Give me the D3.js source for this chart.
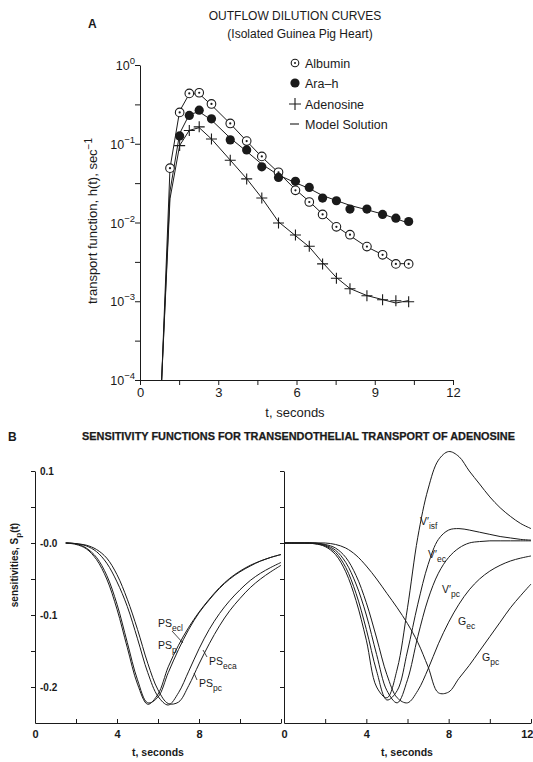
<!DOCTYPE html>
<html><head><meta charset="utf-8">
<script src="https://cdn.jsdelivr.net/npm/d3@7"></script>
<style>body{margin:0;background:#fff}svg{display:block}</style>
</head><body>
<svg id="c" width="533" height="762"></svg>
<script>
// ---------- Panel A data ----------
const tA = [1.15,1.52,1.89,2.27,2.74,3.46,4.09,4.67,5.31,5.96,6.49,7.00,7.53,8.05,8.70,9.30,9.81,10.30];
const albumin = [0.049,0.25,0.436,0.444,0.32,0.181,0.108,0.069,0.0434,0.0256,0.0182,0.01265,0.0088,0.0070,0.00494,0.00389,0.00298,0.00298];
const araH = [null,0.1257,0.229,0.267,0.207,0.112,0.0834,0.0509,0.0374,0.0333,0.0279,0.0204,0.0189,0.0148,0.0148,0.01265,0.01135,0.0103];
const adenosine = [null,0.0948,0.147,0.164,0.1148,0.0616,0.0358,0.0205,0.00986,0.00693,0.00499,0.00298,0.00196,0.00144,0.001175,0.001044,0.001015,0.000986];
const modelT = [0.83,1.15,1.52,1.89,2.27,2.74,3.46,4.09,4.67,5.31,5.96,6.49,7.00,7.53,8.05,8.70,9.30,9.81,10.30];
const modelAlbumin = [1e-4,0.049,0.26,0.43,0.43,0.31,0.18,0.108,0.068,0.043,0.0262,0.0185,0.0128,0.0089,0.0068,0.0049,0.0039,0.0030,0.0030];
const modelAra = [1e-4,0.025,0.135,0.235,0.255,0.2,0.118,0.08,0.055,0.04,0.032,0.027,0.022,0.019,0.0165,0.0145,0.0128,0.0112,0.0098];
const modelAdenosine = [1e-4,0.02,0.095,0.148,0.16,0.115,0.062,0.036,0.0205,0.0102,0.0068,0.0049,0.0031,0.002,0.00145,0.00118,0.00105,0.00095,0.00102];
const yTicksA = [1e-4,1e-3,1e-2,1e-1,1];
const yTickExpA = ["\u22124","\u22123","\u22122","\u22121","0"];
const xTicksA = [0,3,6,9,12];
const legendA = ["Albumin","Ara\u2013h","Adenosine","Model Solution"];

// ---------- Panel B data ----------
const tBL = [1.5,2,2.5,3,3.5,4,4.5,5,5.5,6,6.5,7,7.5,8,8.5,9,9.5,10,10.5,11,11.5,12];
const psEcl = [0,-0.002,-0.008,-0.023,-0.05,-0.092,-0.145,-0.196,-0.224,-0.21,-0.172,-0.142,-0.117,-0.096,-0.078,-0.062,-0.049,-0.039,-0.031,-0.025,-0.02,-0.016];
const psP   = [0,-0.001,-0.007,-0.02,-0.045,-0.085,-0.138,-0.19,-0.222,-0.214,-0.18,-0.148,-0.12,-0.097,-0.079,-0.063,-0.05,-0.04,-0.032,-0.025,-0.02,-0.016];
const psPc  = [0,-0.001,-0.004,-0.012,-0.028,-0.054,-0.088,-0.133,-0.18,-0.213,-0.225,-0.208,-0.178,-0.147,-0.12,-0.098,-0.08,-0.065,-0.052,-0.042,-0.034,-0.027];
const psEca = [0,-0.001,-0.003,-0.009,-0.021,-0.044,-0.078,-0.12,-0.167,-0.204,-0.223,-0.221,-0.198,-0.168,-0.14,-0.115,-0.094,-0.077,-0.062,-0.05,-0.04,-0.031];
const tBR = [0,0.5,1,1.5,2,2.5,3,3.5,4,4.5,5,5.5,6,6.5,7,7.5,8,8.5,9,9.5,10,10.5,11,11.5,12];
const vIsf = [0,0,0,-0.001,-0.005,-0.016,-0.04,-0.08,-0.135,-0.2,-0.215,-0.175,-0.09,0.008,0.075,0.115,0.127,0.12,0.1,0.082,0.064,0.049,0.037,0.027,0.02];
const vEc  = [0,0,0,-0.001,-0.004,-0.013,-0.034,-0.07,-0.12,-0.178,-0.218,-0.205,-0.15,-0.085,-0.03,0.005,0.018,0.02,0.018,0.015,0.012,0.009,0.007,0.005,0.004];
const vPc  = [0,0,0,0,-0.003,-0.01,-0.027,-0.057,-0.1,-0.155,-0.205,-0.222,-0.19,-0.13,-0.078,-0.042,-0.02,-0.007,0,0.002,0.003,0.003,0.003,0.003,0.003];
const gEc  = [0,0,0,0,-0.002,-0.007,-0.02,-0.045,-0.083,-0.132,-0.183,-0.215,-0.222,-0.205,-0.175,-0.14,-0.11,-0.085,-0.065,-0.05,-0.039,-0.031,-0.025,-0.021,-0.018];
const gPc  = [0,0,0,0,0,-0.002,-0.007,-0.017,-0.032,-0.05,-0.07,-0.09,-0.112,-0.138,-0.172,-0.208,-0.207,-0.188,-0.17,-0.15,-0.13,-0.11,-0.09,-0.073,-0.057];
const yTicksB = [0.1,0.05,0,-0.05,-0.1,-0.15,-0.2];
const yLabelsB = [[0.1,"0.1"],[0,"-0.0"],[-0.1,"-0.1"],[-0.2,"-0.2"]];
const xTicksB = [0,2,4,6,8,10,12];

const svg = d3.select("#c");
const INK = "#1a1a1a";
const fA = "'Liberation Sans', Arial, Helvetica, sans-serif";

// ================= Panel A =================
const xA = d3.scaleLinear().domain([0,12]).range([140,453]);
const yA = d3.scaleLog().domain([1e-4,1]).range([380,65]);

svg.append("text").attr("x",88).attr("y",28).attr("font-family",fA).attr("font-weight","bold").attr("font-size",12).attr("fill",INK).text("A");
svg.append("text").attr("x",295).attr("y",20).attr("text-anchor","middle").attr("font-family",fA).attr("font-size",12).attr("fill",INK).text("OUTFLOW DILUTION CURVES");
svg.append("text").attr("x",300).attr("y",38).attr("text-anchor","middle").attr("font-family",fA).attr("font-size",12).attr("fill",INK).text("(Isolated Guinea Pig Heart)");

// y axis
const minorA = [];
yTicksA.forEach((v,i)=>{ minorA.push(v); if(i<yTicksA.length-1) minorA.push(v*Math.sqrt(10)); });
const gyA = svg.append("g").attr("transform","translate(140,0)")
  .call(d3.axisLeft(yA).tickValues(minorA).tickSize(5).tickSizeOuter(0).tickFormat(""));
gyA.selectAll("path,line").attr("stroke",INK).attr("stroke-width",1);
yTicksA.forEach((v,i)=>{
  const t = svg.append("text").attr("x",135).attr("y",yA(v)+5).attr("text-anchor","end")
    .attr("font-family",fA).attr("font-size",12.5).attr("fill",INK);
  t.append("tspan").text("10");
  t.append("tspan").attr("dy",-6).attr("font-size",9.5).text(yTickExpA[i]);
});
// x axis
const gxA = svg.append("g").attr("transform","translate(0,380)")
  .call(d3.axisBottom(xA).tickValues([0,1.5,3,4.5,6,7.5,9,10.5,12]).tickSize(5).tickSizeOuter(0)
  .tickFormat(d=> xTicksA.includes(d)? String(d):""));
gxA.selectAll("path,line").attr("stroke",INK).attr("stroke-width",1);
gxA.selectAll("text").attr("font-family",fA).attr("font-size",13).attr("fill",INK);
svg.append("text").attr("x",295).attr("y",417).attr("text-anchor","middle").attr("font-family",fA).attr("font-size",13).attr("fill",INK).text("t, seconds");
const ylab = svg.append("text").attr("transform","translate(97,221) rotate(-90)").attr("text-anchor","middle")
  .attr("font-family",fA).attr("font-size",13).attr("fill",INK);
ylab.append("tspan").text("transport function, h(t), sec");
ylab.append("tspan").attr("dy",-5).attr("font-size",10).text("\u22121");

// model lines
const lineA = d3.line().defined(d=>d[1]!=null).x(d=>xA(d[0])).y(d=>yA(d[1]));
[modelAlbumin, modelAra, modelAdenosine].forEach(arr=>{
  svg.append("path").attr("d", lineA(modelT.map((t,i)=>[t,arr[i]])))
    .attr("fill","none").attr("stroke",INK).attr("stroke-width",1);
});
// markers
const gm = svg.append("g");
tA.forEach((t,i)=>{
  if(albumin[i]!=null){
    gm.append("circle").attr("cx",xA(t)).attr("cy",yA(albumin[i])).attr("r",4.3).attr("fill","#fff").attr("stroke",INK).attr("stroke-width",1.1);
    gm.append("circle").attr("cx",xA(t)).attr("cy",yA(albumin[i])).attr("r",1.1).attr("fill",INK);
  }
  if(araH[i]!=null){
    gm.append("circle").attr("cx",xA(t)).attr("cy",yA(araH[i])).attr("r",4.6).attr("fill",INK);
  }
  if(adenosine[i]!=null){
    const cx=xA(t), cy=yA(adenosine[i]);
    gm.append("path").attr("d",`M${cx-5.5},${cy}H${cx+5.5}M${cx},${cy-5.5}V${cy+5.5}`).attr("stroke",INK).attr("stroke-width",1.1);
  }
});
// legend
const lx = 295, ly = [63,83,104,124];
legendA.forEach((s,i)=>{
  svg.append("text").attr("x",305).attr("y",ly[i]+4.5).attr("font-family",fA).attr("font-size",12.5).attr("fill",INK).text(s);
});
svg.append("circle").attr("cx",lx).attr("cy",ly[0]).attr("r",3.8).attr("fill","#fff").attr("stroke",INK).attr("stroke-width",1.1);
svg.append("circle").attr("cx",lx).attr("cy",ly[0]).attr("r",1).attr("fill",INK);
svg.append("circle").attr("cx",lx).attr("cy",ly[1]).attr("r",4.6).attr("fill",INK);
svg.append("path").attr("d",`M${lx-6},${ly[2]}H${lx+6}M${lx},${ly[2]-6}V${ly[2]+6}`).attr("stroke",INK).attr("stroke-width",1.1);
svg.append("path").attr("d",`M${lx-5},${ly[3]}H${lx+4}`).attr("stroke",INK).attr("stroke-width",1.1);

// ================= Panel B =================
const xL = d3.scaleLinear().domain([0,12]).range([35,281]);
const xR = d3.scaleLinear().domain([0,12]).range([284,531]);
const yB = d3.scaleLinear().domain([-0.25,0.1]).range([723,471]);

svg.append("text").attr("x",8).attr("y",441).attr("font-family",fA).attr("font-weight","bold").attr("font-size",12).attr("fill",INK).text("B");
svg.append("text").attr("x",82).attr("y",440).attr("textLength",433).attr("lengthAdjust","spacingAndGlyphs")
  .attr("font-family",fA).attr("font-weight","bold").attr("font-size",10.5).attr("fill",INK)
  .attr("stroke",INK).attr("stroke-width",0.25)
  .text("SENSITIVITY FUNCTIONS FOR TRANSENDOTHELIAL TRANSPORT OF ADENOSINE");

[[xL,35],[xR,284]].forEach(([xs,x0])=>{
  const gy = svg.append("g").attr("transform",`translate(${x0},0)`)
    .call(d3.axisLeft(yB).tickValues(yTicksB).tickSize(4).tickSizeOuter(0).tickFormat(""));
  gy.selectAll("path,line").attr("stroke",INK).attr("stroke-width",1);
});
const gxL = svg.append("g").attr("transform","translate(0,723)")
  .call(d3.axisBottom(xL).tickValues(xTicksB).tickSizeInner(-4).tickSizeOuter(0).tickFormat(d=> (d%4===0 && d<12)? String(d):""));
const gxR = svg.append("g").attr("transform","translate(0,723)")
  .call(d3.axisBottom(xR).tickValues(xTicksB).tickSizeInner(-4).tickSizeOuter(0).tickFormat(d=> d%4===0? String(d):""));
[gxL,gxR].forEach(g=>{
  g.selectAll("path,line").attr("stroke",INK).attr("stroke-width",1);
  g.selectAll("text").attr("font-family",fA).attr("font-weight","bold").attr("font-size",11).attr("fill",INK).attr("dy","0.71em").attr("y",7);
});
// keep the last "12" inside the picture
gxR.selectAll(".tick").filter(d=>d===12).select("text").attr("text-anchor","end").attr("x",2);
yLabelsB.forEach(([v,s])=>{
  svg.append("text").attr("x",40).attr("y",yB(v)+4).attr("font-family",fA).attr("font-weight","bold").attr("font-size",10).attr("fill",INK).text(s);
});
[158,407].forEach(cx=>{
  svg.append("text").attr("x",cx).attr("y",756).attr("text-anchor","middle").attr("font-family",fA).attr("font-weight","bold").attr("font-size",10.5).attr("fill",INK).text("t, seconds");
});
const ylB = svg.append("text").attr("transform","translate(18,565) rotate(-90)").attr("text-anchor","middle")
  .attr("font-family",fA).attr("font-weight","bold").attr("font-size",10).attr("fill",INK);
ylB.append("tspan").text("sensitivities, S");
ylB.append("tspan").attr("dy",3).attr("font-size",8).text("p");
ylB.append("tspan").attr("dy",-3).text("(t)");

const lineL = d3.line().x(d=>xL(d[0])).y(d=>yB(d[1])).curve(d3.curveCatmullRom.alpha(0.5));
const lineR = d3.line().x(d=>xR(d[0])).y(d=>yB(d[1])).curve(d3.curveCatmullRom.alpha(0.5));
[psEcl,psP,psPc,psEca].forEach(arr=>{
  svg.append("path").attr("d",lineL(tBL.map((t,i)=>[t,arr[i]]))).attr("fill","none").attr("stroke",INK).attr("stroke-width",1);
});
[vIsf,vEc,vPc,gEc,gPc].forEach(arr=>{
  svg.append("path").attr("d",lineR(tBR.map((t,i)=>[t,arr[i]]))).attr("fill","none").attr("stroke",INK).attr("stroke-width",1);
});

function curveLabel(x,y,main,sub){
  const t = svg.append("text").attr("x",x).attr("y",y).attr("font-family",fA).attr("font-size",10.5).attr("fill",INK);
  t.append("tspan").text(main);
  t.append("tspan").attr("dy",4).attr("font-size",8.5).text(sub);
}
curveLabel(158,627,"PS","ecl");
curveLabel(158,649,"PS","p");
curveLabel(209,665,"PS","eca");
curveLabel(199,687,"PS","pc");
curveLabel(420,525,"V\u2032","isf");
curveLabel(428,558,"V\u2032","ec");
curveLabel(442,593,"V\u2032","pc");
curveLabel(458,625,"G","ec");
curveLabel(482,661,"G","pc");
// leader lines
[[172,631,183,643],[207,657,203,650],[197,680,194,673]].forEach(([a,b,c,d])=>{
  svg.append("line").attr("x1",a).attr("y1",b).attr("x2",c).attr("y2",d).attr("stroke",INK).attr("stroke-width",0.8);
});
</script>
</body></html>
